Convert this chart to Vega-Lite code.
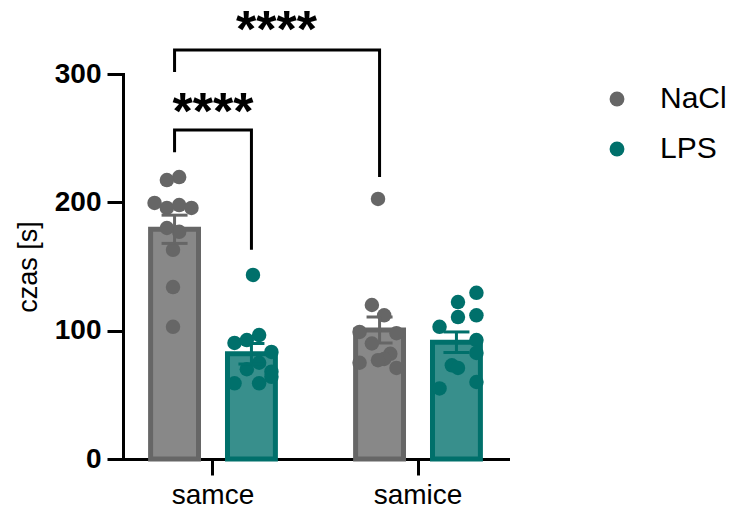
{
  "$schema": "https://vega.github.io/schema/vega-lite/v6.json",
  "width": 385,
  "height": 385,
  "autosize": {"type": "none"},
  "padding": {"left": 123, "top": 74, "right": 223, "bottom": 49},
  "config": {
    "view": {"stroke": null},
    "font": "Liberation Sans",
    "axis": {"grid": false, "domainColor": "black", "domainWidth": 3, "domainCap": "square", "tickColor": "black", "tickWidth": 3, "tickSize": 16, "labelColor": "black", "titleColor": "black"},
    "legend": {"orient": "none", "legendX": 479, "legendY": 10, "labelFontSize": 30, "labelColor": "black", "symbolSize": 220, "rowPadding": 20, "labelOffset": 28, "labelLimit": 300, "symbolStrokeWidth": 0, "symbolOpacity": 1}
  },
  "datasets": {
    "bars": [
      {"sex": "samce", "treatment": "NaCl", "mean": 179, "sem": 11},
      {"sex": "samce", "treatment": "LPS", "mean": 82, "sem": 8},
      {"sex": "samice", "treatment": "NaCl", "mean": 100.5, "sem": 10.2},
      {"sex": "samice", "treatment": "LPS", "mean": 91, "sem": 8}
    ],
    "points": [
      {"sex": "samce", "treatment": "NaCl", "slot": "NaCl|1", "czas": 219.7},
      {"sex": "samce", "treatment": "NaCl", "slot": "NaCl|-1", "czas": 217.4},
      {"sex": "samce", "treatment": "NaCl", "slot": "NaCl|-3", "czas": 199.5},
      {"sex": "samce", "treatment": "NaCl", "slot": "NaCl|-1", "czas": 195.6},
      {"sex": "samce", "treatment": "NaCl", "slot": "NaCl|1", "czas": 197.9},
      {"sex": "samce", "treatment": "NaCl", "slot": "NaCl|3", "czas": 195.6},
      {"sex": "samce", "treatment": "NaCl", "slot": "NaCl|-1", "czas": 180},
      {"sex": "samce", "treatment": "NaCl", "slot": "NaCl|1", "czas": 177},
      {"sex": "samce", "treatment": "NaCl", "slot": "NaCl|0", "czas": 163},
      {"sex": "samce", "treatment": "NaCl", "slot": "NaCl|0", "czas": 134},
      {"sex": "samce", "treatment": "NaCl", "slot": "NaCl|0", "czas": 103},
      {"sex": "samce", "treatment": "LPS", "slot": "LPS|0", "czas": 143.4},
      {"sex": "samce", "treatment": "LPS", "slot": "LPS|-3", "czas": 90.4},
      {"sex": "samce", "treatment": "LPS", "slot": "LPS|-1", "czas": 92.7},
      {"sex": "samce", "treatment": "LPS", "slot": "LPS|1", "czas": 96.6},
      {"sex": "samce", "treatment": "LPS", "slot": "LPS|3", "czas": 83.4},
      {"sex": "samce", "treatment": "LPS", "slot": "LPS|1", "czas": 75},
      {"sex": "samce", "treatment": "LPS", "slot": "LPS|-1", "czas": 70},
      {"sex": "samce", "treatment": "LPS", "slot": "LPS|3", "czas": 68},
      {"sex": "samce", "treatment": "LPS", "slot": "LPS|3", "czas": 64},
      {"sex": "samce", "treatment": "LPS", "slot": "LPS|-3", "czas": 59},
      {"sex": "samce", "treatment": "LPS", "slot": "LPS|1", "czas": 59},
      {"sex": "samice", "treatment": "NaCl", "slot": "NaCl|0", "czas": 202.6},
      {"sex": "samice", "treatment": "NaCl", "slot": "NaCl|-1", "czas": 120},
      {"sex": "samice", "treatment": "NaCl", "slot": "NaCl|1", "czas": 112},
      {"sex": "samice", "treatment": "NaCl", "slot": "NaCl|-3", "czas": 99},
      {"sex": "samice", "treatment": "NaCl", "slot": "NaCl|3", "czas": 98},
      {"sex": "samice", "treatment": "NaCl", "slot": "NaCl|-1", "czas": 90},
      {"sex": "samice", "treatment": "NaCl", "slot": "NaCl|2", "czas": 82},
      {"sex": "samice", "treatment": "NaCl", "slot": "NaCl|1", "czas": 78},
      {"sex": "samice", "treatment": "NaCl", "slot": "NaCl|0", "czas": 77},
      {"sex": "samice", "treatment": "NaCl", "slot": "NaCl|-3", "czas": 75},
      {"sex": "samice", "treatment": "NaCl", "slot": "NaCl|3", "czas": 71},
      {"sex": "samice", "treatment": "LPS", "slot": "LPS|3", "czas": 129.5},
      {"sex": "samice", "treatment": "LPS", "slot": "LPS|0", "czas": 122.3},
      {"sex": "samice", "treatment": "LPS", "slot": "LPS|3", "czas": 112},
      {"sex": "samice", "treatment": "LPS", "slot": "LPS|0", "czas": 110.6},
      {"sex": "samice", "treatment": "LPS", "slot": "LPS|-3", "czas": 103},
      {"sex": "samice", "treatment": "LPS", "slot": "LPS|3", "czas": 92.7},
      {"sex": "samice", "treatment": "LPS", "slot": "LPS|3", "czas": 82.6},
      {"sex": "samice", "treatment": "LPS", "slot": "LPS|-1", "czas": 73},
      {"sex": "samice", "treatment": "LPS", "slot": "LPS|0", "czas": 71},
      {"sex": "samice", "treatment": "LPS", "slot": "LPS|3", "czas": 60},
      {"sex": "samice", "treatment": "LPS", "slot": "LPS|-3", "czas": 55}
    ],
    "brackets": [
      {"seg": "inner", "ord": 1, "sex": "samce", "treatment": "NaCl", "y": 239},
      {"seg": "inner", "ord": 2, "sex": "samce", "treatment": "NaCl", "y": 256.4},
      {"seg": "inner", "ord": 3, "sex": "samce", "treatment": "LPS", "y": 256.4},
      {"seg": "inner", "ord": 4, "sex": "samce", "treatment": "LPS", "y": 163},
      {"seg": "outer", "ord": 1, "sex": "samce", "treatment": "NaCl", "y": 301.6},
      {"seg": "outer", "ord": 2, "sex": "samce", "treatment": "NaCl", "y": 318.7},
      {"seg": "outer", "ord": 3, "sex": "samice", "treatment": "NaCl", "y": 318.7},
      {"seg": "outer", "ord": 4, "sex": "samice", "treatment": "NaCl", "y": 219.7}
    ],
    "starsInner": [{"sex": "samce", "y": 257.3, "label": "****"}],
    "starsOuter": [{"sex": "samce", "y": 320.8, "label": "****"}]
  },
  "layer": [
    {
      "data": {"name": "bars"},
      "mark": {"type": "bar", "fillOpacity": 0.78, "strokeWidth": 5, "strokeOpacity": 1},
      "encoding": {
        "x": {"field": "sex", "type": "nominal", "sort": ["samce", "samice"],
              "scale": {"paddingInner": 0.25, "paddingOuter": 0.064},
              "axis": {"title": null, "labelAngle": 0, "labelFontSize": 28, "labelPadding": 6}},
        "xOffset": {"field": "treatment", "type": "nominal", "sort": ["NaCl", "LPS"],
                    "scale": {"domain": ["NaCl", "LPS"], "paddingInner": 0.377, "paddingOuter": 0.1883}},
        "y": {"field": "mean", "type": "quantitative", "title": "czas [s]",
              "scale": {"domain": [0, 300], "nice": false},
              "axis": {"title": "czas [s]", "values": [0, 100, 200, 300], "labelFontSize": 28, "labelFontWeight": "bold", "labelPadding": 6, "titleFontSize": 27, "titleFontWeight": "normal", "titlePadding": 12}},
        "color": {"field": "treatment", "type": "nominal", "scale": {"domain": ["NaCl", "LPS"], "range": ["#666666", "#00706B"]}},
        "stroke": {"field": "treatment", "type": "nominal", "scale": {"domain": ["NaCl", "LPS"], "range": ["#666666", "#00706B"]}, "legend": null}
      }
    },
    {
      "data": {"name": "points"},
      "mark": {"type": "circle", "size": 210, "opacity": 1},
      "encoding": {
        "x": {"field": "sex", "type": "nominal", "sort": ["samce", "samice"]},
        "xOffset": {"field": "slot", "type": "nominal",
                    "scale": {"domain": ["NaCl|-6","NaCl|-5","NaCl|-4","NaCl|-3","NaCl|-2","NaCl|-1","NaCl|0","NaCl|1","NaCl|2","NaCl|3","NaCl|4","NaCl|5","NaCl|6","LPS|-6","LPS|-5","LPS|-4","LPS|-3","LPS|-2","LPS|-1","LPS|0","LPS|1","LPS|2","LPS|3","LPS|4","LPS|5","LPS|6"], "paddingInner": 0, "paddingOuter": 0}},
        "y": {"field": "czas", "type": "quantitative", "title": "czas [s]"},
        "color": {"field": "treatment", "type": "nominal", "legend": {"title": null, "symbolType": "circle"}}
      }
    },
    {
      "data": {"name": "bars"},
      "mark": {"type": "errorbar", "ticks": {"size": 26, "thickness": 3, "opacity": 1}, "rule": {"strokeWidth": 3, "opacity": 1}},
      "encoding": {
        "x": {"field": "sex", "type": "nominal", "sort": ["samce", "samice"]},
        "xOffset": {"field": "treatment", "type": "nominal", "sort": ["NaCl", "LPS"]},
        "y": {"field": "mean", "type": "quantitative", "title": "czas [s]"},
        "yError": {"field": "sem"},
        "color": {"field": "treatment", "type": "nominal"}
      }
    },
    {
      "data": {"name": "brackets"},
      "mark": {"type": "line", "color": "black", "strokeWidth": 3, "strokeJoin": "miter"},
      "encoding": {
        "x": {"field": "sex", "type": "nominal", "sort": ["samce", "samice"]},
        "xOffset": {"field": "treatment", "type": "nominal", "sort": ["NaCl", "LPS"]},
        "y": {"field": "y", "type": "quantitative", "title": "czas [s]"},
        "detail": {"field": "seg"},
        "order": {"field": "ord", "type": "quantitative"}
      }
    },
    {
      "data": {"name": "starsInner"},
      "mark": {"type": "text", "fontSize": 52, "fontWeight": "bold", "color": "black", "align": "center", "baseline": "alphabetic"},
      "encoding": {
        "x": {"field": "sex", "type": "nominal", "sort": ["samce", "samice"]},
        "y": {"field": "y", "type": "quantitative", "title": "czas [s]"},
        "text": {"field": "label"}
      }
    },
    {
      "data": {"name": "starsOuter"},
      "mark": {"type": "text", "fontSize": 52, "fontWeight": "bold", "color": "black", "align": "center", "baseline": "alphabetic", "dx": 63.5},
      "encoding": {
        "x": {"field": "sex", "type": "nominal", "sort": ["samce", "samice"]},
        "y": {"field": "y", "type": "quantitative", "title": "czas [s]"},
        "text": {"field": "label"}
      }
    }
  ],
  "resolve": {"scale": {"xOffset": "independent"}}
}
